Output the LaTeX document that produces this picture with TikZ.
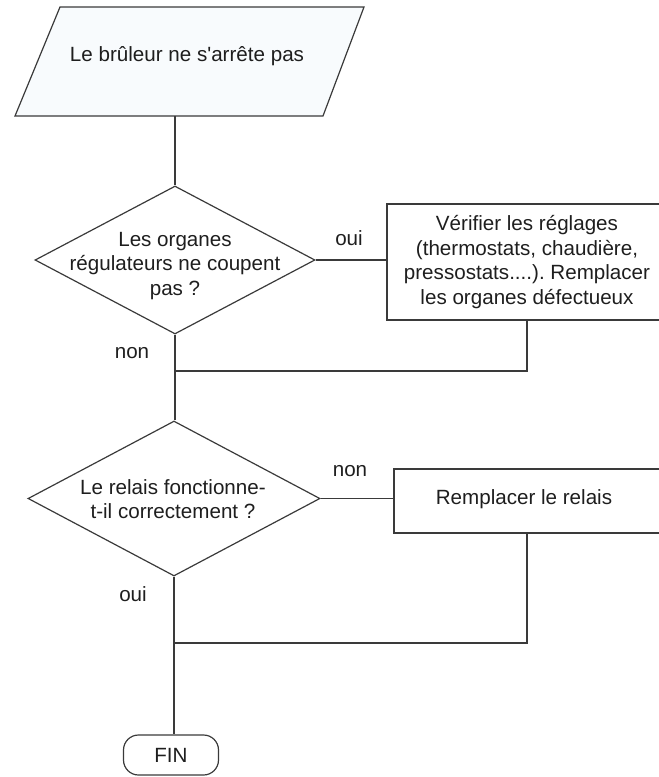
\documentclass[tikz,border=0pt]{standalone}
\usepackage{fontspec}
\setmainfont{Liberation Sans}
\usetikzlibrary{shapes.geometric}
\definecolor{ln}{HTML}{3A3A3A}
\definecolor{tx}{HTML}{1E1E1E}
\definecolor{pfill}{HTML}{F8FBFD}
\begin{document}
\frenchspacing
\begin{tikzpicture}[x=1pt,y=-1pt,
  every node/.style={font=\fontsize{20.6}{24.5}\selectfont, text=tx, align=center},
  conn/.style={draw=ln, line width=1.2pt},
  startshape/.style={draw=ln, line width=1.2pt, fill=pfill, line join=miter},
  decision/.style={diamond, draw=ln, line width=1.2pt, inner sep=0pt},
  actionbox/.style={rectangle, draw=ln, line width=1.2pt, inner sep=0pt},
  endbox/.style={rectangle, rounded corners=15pt, draw=ln, line width=1.2pt,
    minimum width=95pt, minimum height=40pt, inner sep=0pt}
]
\useasboundingbox (0,0) rectangle (659,777);
% start (parallelogram)
\path[startshape] (60,7) -- (364,7) -- (323,116) -- (15,116) -- cycle;
\node (start) at (187,56) {Le brûleur ne s\textquotesingle arrête pas};
\coordinate (startbot) at (175,116);
% decision 1
\node[decision, minimum width=280pt, minimum height=148pt] (d1) at (175,260) {};
\node (d1text) at (175,266) {Les organes\\régulateurs ne coupent\\pas ?};
% action 1
\node[actionbox, minimum width=280pt, minimum height=116pt] (b1) at (527,262)
  {Vérifier les réglages\\(thermostats, chaudière,\\pressostats....). Remplacer\\les organes défectueux};
% decision 2
\node[decision, minimum width=292pt, minimum height=155pt] (d2) at (174,498.5) {};
\node (d2text) at (173,499) {Le relais fonctionne-\\t-il correctement ?};
% action 2
\node[actionbox, minimum width=271pt, minimum height=64pt] (b2) at (529.5,501) {};
\node (b2text) at (524,499) {Remplacer le relais};
% end
\node[endbox] (fin) at (171,755) {FIN};
% labels
\node (l1) at (349,238) {oui};
\node (l2) at (132,353) {non};
\node (l3) at (350,471) {non};
\node (l4) at (133,594) {oui};
% merge points
\coordinate (m1) at (175,371);
\coordinate (m2) at (174,643);
% connectors
\draw[conn] (startbot) -- (d1.north);
\draw[conn] (d1.east) -- (b1.west |- d1.east);
\draw[conn] (b1.south) |- (m1);
\draw[conn] (d1.south) -- (d1.south |- d2.north);
\draw[conn] (d2.east) -- (b2.west |- d2.east);
\draw[conn] (b2.south -| b1.south) |- (m2);
\draw[conn] (d2.south) -- (d2.south |- fin.north);
\end{tikzpicture}
\end{document}
